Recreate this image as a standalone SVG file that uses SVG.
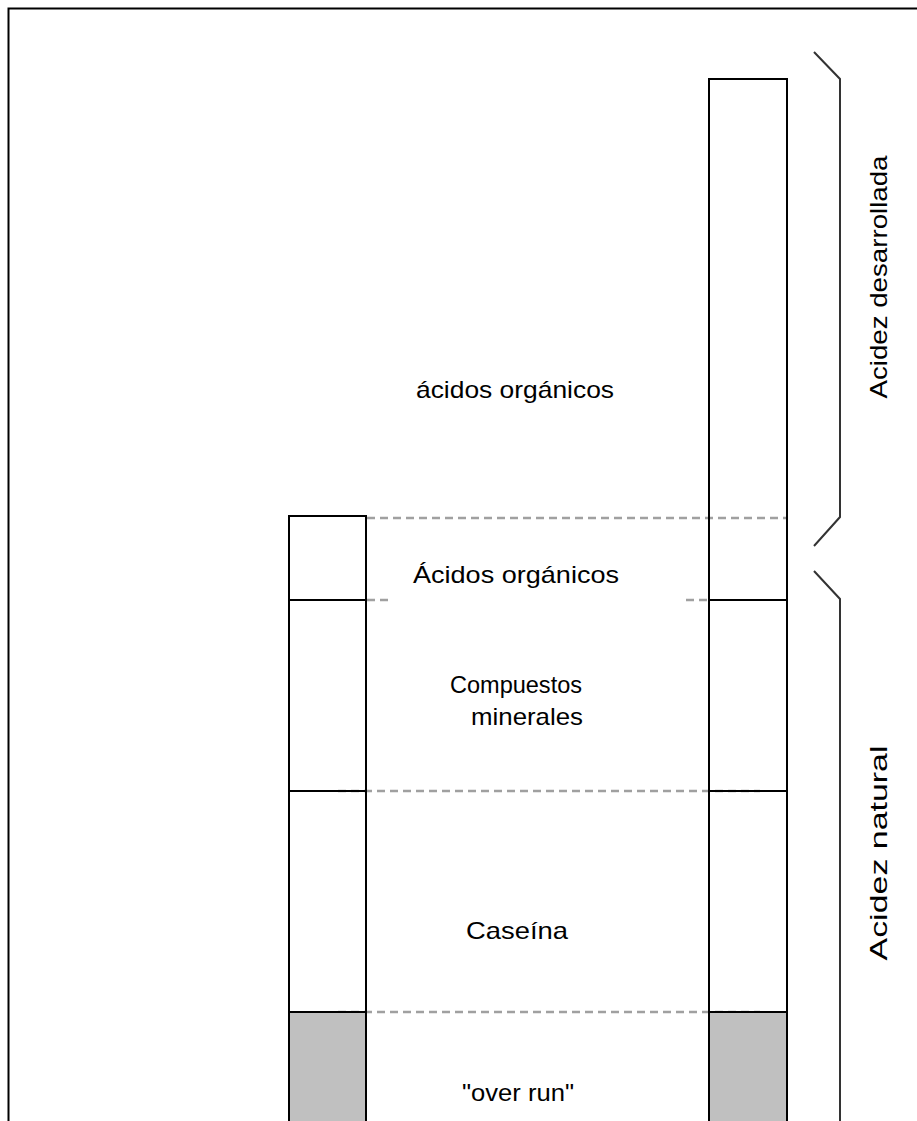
<svg xmlns="http://www.w3.org/2000/svg" width="917" height="1121" viewBox="0 0 917 1121">
<style>
.col{fill:none;stroke:#000;stroke-width:2}
.sep{stroke:#000;stroke-width:2}
.dash{stroke:#a0a0a0;stroke-width:2.5;stroke-dasharray:8,5}
.brace{fill:none;stroke:#333;stroke-width:2}
.gray{fill:#c0c0c0}
text{font-family:"Liberation Sans",Arial,sans-serif;font-size:24px;fill:#000;text-anchor:middle}
</style>
<rect width="917" height="1121" fill="#fff"/>
<path d="M8.5,1121 V8.5 H917" fill="none" stroke="#000" stroke-width="2"/>
<g id="connectors">
<line class="dash" x1="367" y1="518" x2="787" y2="518"/>
<line class="dash" x1="367" y1="600" x2="392" y2="600"/>
<line class="dash" x1="686" y1="600" x2="709" y2="600"/>
<line class="dash" x1="338" y1="791" x2="760" y2="791"/>
<line class="dash" x1="338" y1="1012" x2="760" y2="1012"/>
</g>
<g id="left-column">
<rect class="gray" x="289" y="1012" width="77" height="115"/>
<rect class="col" x="289" y="516" width="77" height="615"/>
<line class="sep" x1="289" y1="600" x2="366" y2="600"/>
<line class="sep" x1="289" y1="791" x2="366" y2="791"/>
<line class="sep" x1="289" y1="1012" x2="366" y2="1012"/>
</g>
<g id="right-column">
<rect class="gray" x="709" y="1012" width="78" height="115"/>
<rect class="col" x="709" y="79" width="78" height="1052"/>
<line class="sep" x1="709" y1="600" x2="787" y2="600"/>
<line class="sep" x1="709" y1="791" x2="787" y2="791"/>
<line class="sep" x1="709" y1="1012" x2="787" y2="1012"/>
</g>
<g id="brace-desarrollada">
<path class="brace" d="M814,52 L840,79 V517 L814,546"/>
<text transform="translate(887,277) rotate(-90)" textLength="243" lengthAdjust="spacingAndGlyphs">Acidez desarrollada</text>
</g>
<g id="brace-natural">
<path class="brace" d="M814,571 L840,599 V1121"/>
<text transform="translate(887,853) rotate(-90)" textLength="215" lengthAdjust="spacingAndGlyphs">Acidez natural</text>
</g>
<g id="label-acidos-desarrollados">
<text x="515" y="398" textLength="198" lengthAdjust="spacingAndGlyphs">ácidos orgánicos</text>
</g>
<g id="label-acidos-naturales">
<text x="516" y="583" textLength="206" lengthAdjust="spacingAndGlyphs">Ácidos orgánicos</text>
</g>
<g id="label-minerales">
<text x="516" y="693" textLength="132" lengthAdjust="spacingAndGlyphs">Compuestos</text>
<text x="527" y="725" textLength="112" lengthAdjust="spacingAndGlyphs">minerales</text>
</g>
<g id="label-caseina">
<text x="517" y="939" textLength="102" lengthAdjust="spacingAndGlyphs">Caseína</text>
</g>
<g id="label-overrun">
<text x="518" y="1101" textLength="112" lengthAdjust="spacingAndGlyphs">"over run"</text>
</g>
</svg>
